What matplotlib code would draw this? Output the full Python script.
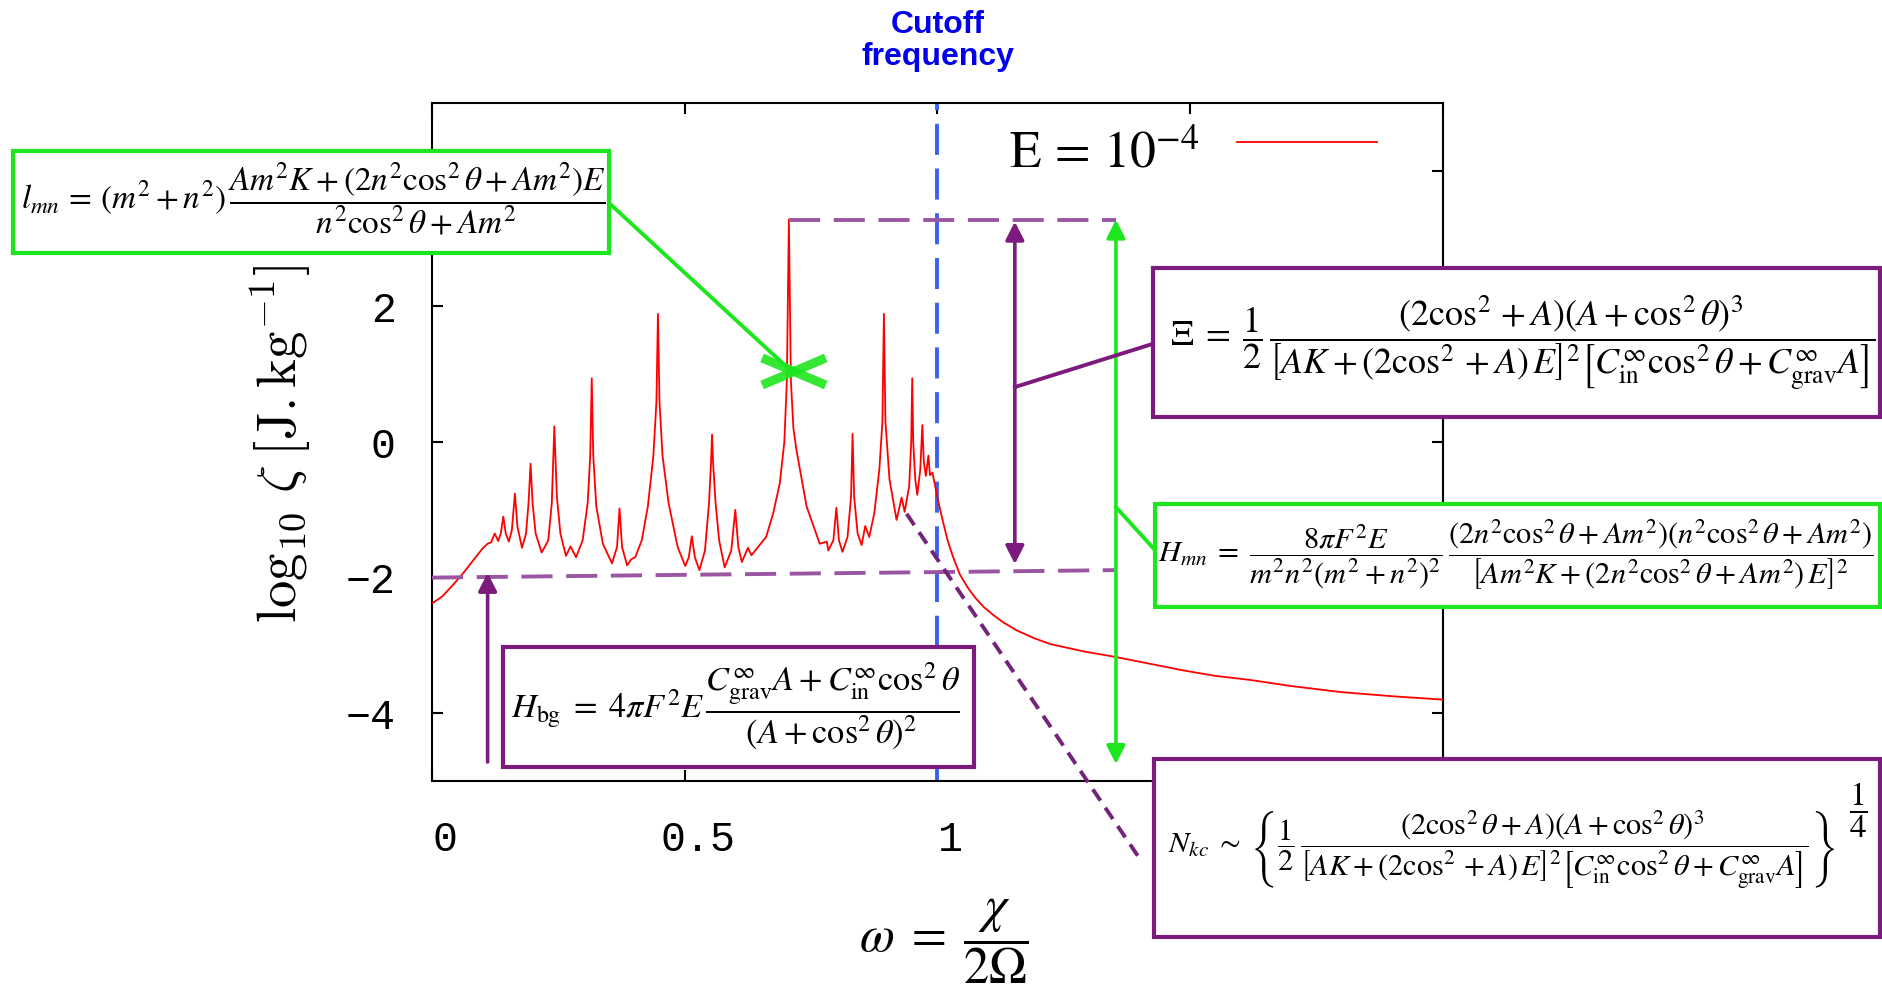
import matplotlib
matplotlib.use("Agg")
import matplotlib.pyplot as plt
from matplotlib.patches import Rectangle
from matplotlib.lines import Line2D
from matplotlib.transforms import ScaledTranslation

# ---------------- data ----------------
omega = [0.000, 0.020, 0.040, 0.060, 0.080, 0.100, 0.110, 0.117, 0.124, 0.131,
         0.136, 0.141, 0.146, 0.152, 0.158, 0.164, 0.169, 0.178, 0.186, 0.191,
         0.195, 0.199, 0.205, 0.217, 0.230, 0.237, 0.242, 0.247, 0.254, 0.265,
         0.274, 0.285, 0.298, 0.308, 0.313, 0.316, 0.319, 0.325, 0.338, 0.356,
         0.366, 0.371, 0.376, 0.386, 0.394, 0.402, 0.415, 0.427, 0.438, 0.444,
         0.447, 0.450, 0.456, 0.468, 0.486, 0.501, 0.508, 0.514, 0.520, 0.529,
         0.540, 0.548, 0.552, 0.554, 0.556, 0.561, 0.568, 0.579, 0.592, 0.600,
         0.606, 0.613, 0.625, 0.632, 0.645, 0.661, 0.675, 0.688, 0.697, 0.702,
         0.706, 0.710, 0.715, 0.721, 0.741, 0.767, 0.781, 0.784, 0.794, 0.800,
         0.805, 0.812, 0.822, 0.829, 0.832, 0.835, 0.842, 0.850, 0.857, 0.865,
         0.875, 0.885, 0.891, 0.894, 0.897, 0.905, 0.919, 0.929, 0.935, 0.944,
         0.948, 0.950, 0.952, 0.956, 0.960, 0.966, 0.970, 0.973, 0.977, 0.982,
         0.985, 0.990, 1.001, 1.010, 1.020, 1.030, 1.044, 1.060, 1.075, 1.091,
         1.110, 1.130, 1.157, 1.190, 1.223, 1.290, 1.352, 1.420, 1.487, 1.550,
         1.619, 1.700, 1.800, 1.900, 2.000]
log10_zeta = [-2.38, -2.28, -2.12, -1.95, -1.76, -1.57, -1.50, -1.48, -1.35, -1.46,
              -1.35, -1.10, -1.35, -1.47, -1.30, -0.76, -1.25, -1.56, -1.35, -0.90,
              -0.32, -0.90, -1.35, -1.63, -1.45, -0.90, 0.23, -0.80, -1.35, -1.68,
              -1.54, -1.70, -1.45, -0.90, -0.20, 0.94, -0.20, -0.95, -1.50, -1.79,
              -1.55, -0.98, -1.55, -1.82, -1.73, -1.70, -1.45, -0.95, -0.20, 0.60,
              1.89, 0.60, -0.20, -0.90, -1.55, -1.83, -1.70, -1.39, -1.70, -1.89,
              -1.60, -0.90, -0.30, 0.11, -0.30, -0.90, -1.45, -1.85, -1.60, -1.00,
              -1.55, -1.77, -1.56, -1.67, -1.55, -1.40, -1.05, -0.61, 0.00, 0.90,
              3.28, 0.90, 0.20, -0.12, -0.95, -1.50, -1.47, -1.60, -1.45, -0.97,
              -1.45, -1.62, -1.40, -0.80, 0.12, -0.80, -1.35, -1.52, -1.24, -1.40,
              -1.05, -0.40, 0.30, 1.89, 0.30, -0.55, -1.15, -0.82, -1.03, -0.65,
              0.00, 0.94, 0.00, -0.55, -0.78, -0.40, 0.25, -0.30, -0.50, -0.20,
              -0.49, -0.45, -0.86, -1.15, -1.45, -1.68, -1.95, -2.15, -2.30, -2.43,
              -2.55, -2.66, -2.78, -2.89, -2.98, -3.09, -3.17, -3.27, -3.37, -3.45,
              -3.51, -3.60, -3.69, -3.75, -3.80]

xticks = [0, 0.5, 1, 1.5, 2]
xticklabels = ["0", "0.5", "1", "1.5", "2"]
yticks = [-4, -2, 0, 2, 4]
yticklabels = ["\u22124", "\u22122", "0", "2", "4"]

legend_label = r"$\mathrm{E}\,=\,10^{-4}$"
cutoff_label = "Cutoff\nfrequency"
cutoff_omega = 1.0

# annotation geometry (data units)
peak_top = 3.28
peak_top_x = [0.706, 1.353]
bg_x = [0.0, 1.35]
bg_y = [-2.0, -1.89]
xi_arrow_x, xi_arrow_y = 1.153, [3.25, -1.80]
h_arrow_x, h_arrow_y = 1.353, [3.28, -4.75]
bg_arrow_x, bg_arrow_y = 0.110, [-4.72, -1.93]
nkc_line_x, nkc_line_y = [0.939, 1.405], [-1.06, -6.20]
xi_link_x, xi_link_y = [1.153, 1.427], [0.81, 1.45]
hmn_link_x, hmn_link_y = [1.353, 1.431], [-0.96, -1.60]
lmn_link_x, lmn_link_y = [0.351, 0.713], [3.52, 1.03]
cross_x = [0.653, 0.779]
cross_y = [0.84, 1.24]

# formulas
f_lmn = (r"$l_{mn}\,=\,\left(m^2+n^2\right)\,\dfrac{Am^2K+\left(2n^2\cos^2\theta+Am^2\right)E}"
         r"{n^2\cos^2\theta+Am^2}$")
f_xi = (r"$\Xi\;=\;\dfrac{1}{2}\,\dfrac{\left(2\cos^2+A\right)\left(A+\cos^2\theta\right)^3}"
        r"{\left[AK+(2\cos^2+A)\,E\right]^2\left[C_{\mathrm{in}}^{\infty}\cos^2\theta+C_{\mathrm{grav}}^{\infty}A\right]}$")
f_hmn = (r"$H_{mn}\;=\;\dfrac{8\pi F^2E}{m^2n^2\left(m^2+n^2\right)^2}\,"
         r"\dfrac{\left(2n^2\cos^2\theta+Am^2\right)\left(n^2\cos^2\theta+Am^2\right)}"
         r"{\left[Am^2K+(2n^2\cos^2\theta+Am^2)\,E\right]^2}$")
f_nkc = (r"$N_{kc}\;\sim\;\left\{\dfrac{1}{2}\,\dfrac{\left(2\cos^2\theta+A\right)\left(A+\cos^2\theta\right)^3}"
         r"{\left[AK+(2\cos^2+A)\,E\right]^2\left[C_{\mathrm{in}}^{\infty}\cos^2\theta+C_{\mathrm{grav}}^{\infty}A\right]}\right\}$")
f_nkc_exp = r"$\dfrac{1}{4}$"
f_hbg = (r"$H_{\mathrm{bg}}\;=\;4\pi F^2E\,\dfrac{C_{\mathrm{grav}}^{\infty}A+C_{\mathrm{in}}^{\infty}\cos^2\theta}"
         r"{\left(A+\cos^2\theta\right)^2}$")
ylabel = r"$\log_{10}\,\zeta\;[\mathrm{J{.}kg}^{-1}]$"
xlabel = r"$\omega\;=\;\dfrac{\chi}{2\Omega}$"

# ---------------- styling ----------------
W, H, DPI = 1883, 991, 100
RED = "#ff0000"
GREEN = "#1ee61e"
PURPLE = "#7d1a7d"
PURPLE_D = "#9a55a3"
PURPLE_DIAG = "#73237a"
BLUE = "#3a62f0"

fig = plt.figure(figsize=(W / DPI, H / DPI), dpi=DPI)
fig.patch.set_facecolor("white")
ax = fig.add_axes([432 / W, 1 - 781 / H, (1443 - 432) / W, (781 - 103) / H])

ax.plot(omega, log10_zeta, color=RED, lw=1.3, zorder=3)
ax.set_xlim(0, 2)
ax.set_ylim(-5, 5)

ax.set_xticks(xticks)
ax.set_xticklabels(xticklabels)
ax.set_yticks(yticks)
ax.set_yticklabels(yticklabels)
ax.tick_params(direction="in", length=8, width=1.5, top=True, right=True,
               labelsize=30, colors="black")
ax.tick_params(axis="x", pad=28)
ax.tick_params(axis="y", pad=26)
for lab in ax.get_xticklabels() + ax.get_yticklabels():
    lab.set_fontfamily("Liberation Mono")
for lab in ax.get_xticklabels():
    lab.set_transform(lab.get_transform() + ScaledTranslation(13 / DPI, 0, fig.dpi_scale_trans))
# labels that sit under the formula boxes in the reference are not visible
for lab in ax.get_xticklabels():
    if lab.get_text() in ("1.5", "2"):
        lab.set_visible(False)
for lab in ax.get_yticklabels():
    if lab.get_text() == "4":
        lab.set_visible(False)
for sp in ax.spines.values():
    sp.set_linewidth(1.5)
    sp.set_color("black")

# cutoff line
ax.axvline(cutoff_omega, color=BLUE, lw=2.8, dashes=(8, 3.5), zorder=2)
# dashed purple guide lines
ax.plot(peak_top_x, [peak_top, peak_top], color=PURPLE_D, lw=2.8, dashes=(8, 3.5), zorder=4)
ax.plot(bg_x, bg_y, color=PURPLE_D, lw=2.8, dashes=(8, 3.5), zorder=4)
ax.plot(nkc_line_x, nkc_line_y, color=PURPLE_DIAG, lw=2.8, dashes=(3.5, 2.2),
        zorder=4, clip_on=False)

# arrows
def arrow(x0, y0, x1, y1, color, style):
    ax.annotate("", xy=(x1, y1), xytext=(x0, y0),
                arrowprops=dict(arrowstyle=style + ",head_length=0.55,head_width=0.28",
                                mutation_scale=20, color=color, lw=2.6,
                                shrinkA=0, shrinkB=0),
                annotation_clip=False, zorder=5)

arrow(xi_arrow_x, xi_arrow_y[0], xi_arrow_x, xi_arrow_y[1], PURPLE, "<|-|>")
arrow(h_arrow_x, h_arrow_y[0], h_arrow_x, h_arrow_y[1], GREEN, "<|-|>")
arrow(bg_arrow_x, bg_arrow_y[0], bg_arrow_x, bg_arrow_y[1], PURPLE, "-|>")

# connector lines
ax.plot(xi_link_x, xi_link_y, color=PURPLE, lw=2.8, zorder=5, clip_on=False)
ax.plot(hmn_link_x, hmn_link_y, color=GREEN, lw=2.8, zorder=5, clip_on=False)
ax.plot(lmn_link_x, lmn_link_y, color=GREEN, lw=2.8, zorder=5, clip_on=False)
# green cross marker
ax.plot(cross_x, cross_y, color=GREEN, lw=6.5, alpha=0.9, solid_capstyle="butt", zorder=6)
ax.plot(cross_x, cross_y[::-1], color=GREEN, lw=6.5, alpha=0.9, solid_capstyle="butt", zorder=6)

renderer = fig.canvas.get_renderer()


def fit_text(s, cx, cy, target, dim="w", mf="stix", ha="center", va="center",
             rotation=0, color="black", base=20.0, zorder=7):
    t = fig.text(cx / W, 1 - cy / H, s, fontsize=base, ha=ha, va=va, rotation=rotation,
                 math_fontfamily=mf, color=color, zorder=zorder)
    bb = t.get_window_extent(renderer)
    size = bb.width if dim == "w" else bb.height
    t.set_fontsize(base * target / size)
    return t


def box(x0, y0, x1, y1, color):
    r = Rectangle((x0 / W, 1 - y1 / H), (x1 - x0) / W, (y1 - y0) / H,
                  transform=fig.transFigure, facecolor="white", edgecolor=color,
                  linewidth=3.0, zorder=6)
    fig.add_artist(r)


# formula boxes
box(13, 151, 609, 253, GREEN)
fit_text(f_lmn, 313, 199, 585)

box(1153, 268, 1880, 417, PURPLE)
fit_text(f_xi, 1523, 343, 704)

box(1155, 504, 1880, 607, GREEN)
fit_text(f_hmn, 1516, 555, 716)

box(1154, 759, 1880, 937, PURPLE)
fit_text(f_nkc, 1501, 850, 666)
fit_text(f_nkc_exp, 1858, 810, 19)

box(503, 647, 974, 767, PURPLE)
fit_text(f_hbg, 736, 706, 450)

# axis labels
fit_text(ylabel, 281, 444, 360, dim="h", mf="cm", rotation=90)
fit_text(xlabel, 944, 941, 171)

# legend
fit_text(legend_label, 1009, 168, 192, ha="left", va="baseline")
fig.add_artist(Line2D([1237 / W, 1377 / W], [1 - 142 / H, 1 - 142 / H],
                      transform=fig.transFigure, color=RED, lw=1.3))

# cutoff caption
fig.text(938 / W, 1 - 41 / H, cutoff_label, ha="center", va="center", fontsize=23,
         fontweight="bold", color="#0000ee", family="Liberation Sans", linespacing=1.12)

fig.savefig("out.png", dpi=DPI, facecolor="white")
